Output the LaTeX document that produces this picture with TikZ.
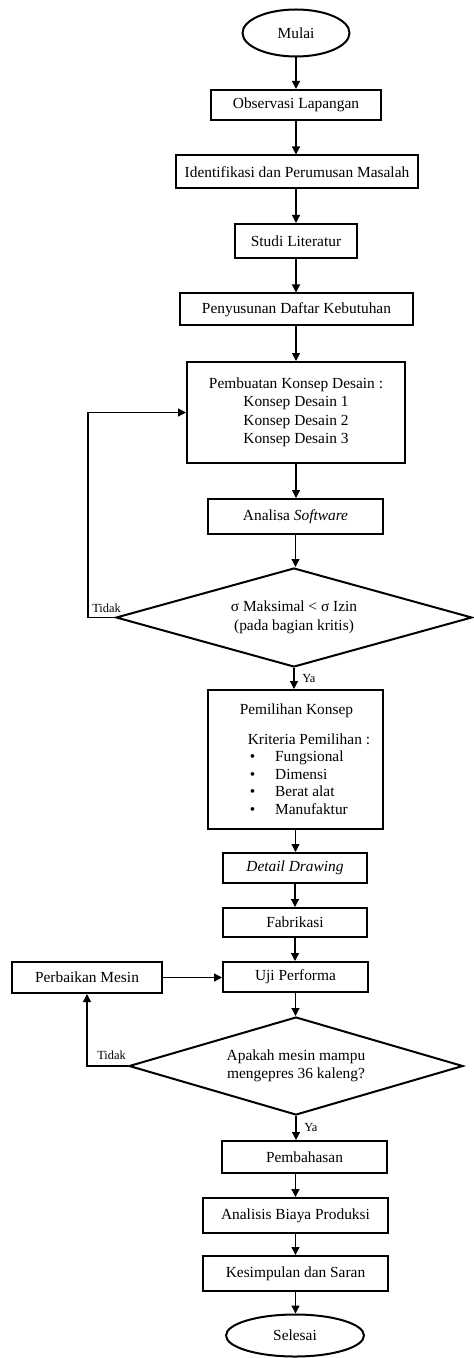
\documentclass[tikz,border=0pt]{standalone}
\usepackage{fontspec}
\setmainfont{Liberation Serif}
\usetikzlibrary{shapes.geometric,arrows.meta}

\tikzset{every picture/.style={line width=0.75pt}}
\tikzset{
  kotak/.style={draw, line width=1pt, inner sep=0pt, align=center, font=\fontsize{7.7}{9.25}\selectfont},
  oval/.style={kotak, ellipse},
  putusan/.style={kotak, diamond, aspect=3.4},
  ket/.style={inner sep=0.75pt, font=\fontsize{6.2}{7.5}\selectfont},
  panah/.style={line width=0.6pt, -{Triangle[width=4pt,length=4pt]}},
}

\begin{document}
\begin{tikzpicture}[x=0.5pt,y=0.5pt,yscale=-1,xscale=1]
    \useasboundingbox (0,0) rectangle (473,1358);

    %Shape: Ellipse [mulai]
    \node[oval, minimum width=53.5pt, minimum height=23.5pt] (mulai) at (296,33) {Mulai};
    %Shape: Rectangle
    \node[kotak, minimum width=85pt, minimum height=15pt] (obs) at (296,105) {Observasi Lapangan};
    \node[kotak, minimum width=121pt, minimum height=16.5pt] (ident) at (297,172) {Identifikasi dan Perumusan Masalah};
    \node[kotak, minimum width=61pt, minimum height=17pt] (studi) at (296,241) {Studi Literatur};
    \node[kotak, minimum width=116.5pt, minimum height=16pt] (susun) at (296.5,309.5) {Penyusunan Daftar Kebutuhan};
    \node[kotak, minimum width=109pt, minimum height=50.5pt] (konsep) at (296,412.5) {Pembuatan Konsep Desain :\\Konsep Desain 1\\Konsep Desain 2\\Konsep Desain 3};
    \node[kotak, minimum width=87.5pt, minimum height=17.5pt] (analisa) at (295.5,516.5) {Analisa \textit{Software}};
    %Shape: Diamond
    \node[putusan, minimum width=178pt, minimum height=49.5pt] (cek1) at (294,617.5) {σ Maksimal < σ Izin\\(pada bagian kritis)};
    %Shape: Rectangle
    \node[kotak, minimum width=87.5pt, minimum height=69.5pt] (pilih) at (295.5,759.5) {};
    % Text Node
    \node[anchor=north west, inner sep=0pt, align=left, font=\fontsize{7.7}{8.8}\selectfont] (kriteria) at ([xshift=16pt,yshift=7pt]pilih.north west) {Pemilihan Konsep\\[6pt]
      \hspace*{4pt}Kriteria Pemilihan :\\
      \hspace*{5pt}\textbullet\hspace*{10pt}Fungsional\\
      \hspace*{5pt}\textbullet\hspace*{10pt}Dimensi\\
      \hspace*{5pt}\textbullet\hspace*{10pt}Berat alat\\
      \hspace*{5pt}\textbullet\hspace*{10pt}Manufaktur};
    %Shape: Rectangle
    \node[kotak, minimum width=72pt, minimum height=15pt] (detail) at (295,868) {\textit{Detail Drawing}};
    \node[kotak, minimum width=72pt, minimum height=14.5pt] (fab) at (295,922.5) {Fabrikasi};
    \node[kotak, minimum width=72.5pt, minimum height=15pt] (uji) at (295.5,977) {Uji Performa};
    \node[kotak, minimum width=75pt, minimum height=15.5pt] (perbaikan) at (87,977.5) {Perbaikan Mesin};
    %Shape: Diamond
    \node[putusan, minimum width=167pt, minimum height=49pt] (cek2) at (296,1066) {Apakah mesin mampu\\mengepres 36 kaleng?};
    %Shape: Rectangle
    \node[kotak, minimum width=82.5pt, minimum height=16pt] (bahas) at (304.5,1157) {Pembahasan};
    \node[kotak, minimum width=92.5pt, minimum height=17.5pt] (biaya) at (295.5,1215.5) {Analisis Biaya Produksi};
    \node[kotak, minimum width=92.5pt, minimum height=17.5pt] (simpul) at (295.5,1273.5) {Kesimpulan dan Saran};
    %Shape: Ellipse [selesai]
    \node[oval, minimum width=69pt, minimum height=21pt] (selesai) at (295,1335.5) {Selesai};

    %Straight Lines
    \draw[panah] (mulai.south) -- (mulai.south |- obs.north);
    \draw[panah] (obs.south) -- (obs.south |- ident.north);
    \draw[panah] (studi.north |- ident.south) -- (studi.north);
    \draw[panah] (studi.south) -- (studi.south |- susun.north);
    \draw[panah] (konsep.north |- susun.south) -- (konsep.north);
    \draw[panah] (konsep.south) -- (konsep.south |- analisa.north);
    \draw[panah] (analisa.south) -- (analisa.south |- cek1.north);
    \draw[panah] (cek1.south) -- (cek1.south |- pilih.north);
    \draw[panah] (pilih.south) -- (pilih.south |- detail.north);
    \draw[panah] (detail.south) -- (detail.south |- fab.north);
    \draw[panah] (fab.south) -- (fab.south |- uji.north);
    \draw[panah] (uji.south) -- (uji.south |- cek2.north);
    \draw[panah] (perbaikan.east) -- (perbaikan.east -| uji.west);
    \draw[panah] (cek2.south) -- (cek2.south |- bahas.north);
    \draw[panah] (biaya.north |- bahas.south) -- (biaya.north);
    \draw[panah] (biaya.south) -- (simpul.north);
    \draw[panah] (simpul.south) -- (simpul.south |- selesai.north);

    %Loop Lines
    \coordinate (kiri1) at (88,617.5);
    \draw[panah] (cek1.west) -- (kiri1) |- (konsep.west);
    \coordinate (kiri2) at (87,1066);
    \draw[panah] (cek2.west) -- (kiri2) -- (kiri2 |- perbaikan.south);

    % Text Node
    \node[ket, anchor=south west] (tidak1) at ([xshift=1pt,yshift=-1.5pt]kiri1) {Tidak};
    \node[ket, anchor=south west] (tidak2) at ([xshift=4pt,yshift=-2pt]kiri2) {Tidak};
    \node[ket, anchor=west] (ya1) at ([xshift=3pt,yshift=5pt]cek1.south) {Ya};
    \node[ket, anchor=west] (ya2) at ([xshift=3pt,yshift=5.5pt]cek2.south) {Ya};

\end{tikzpicture}
\end{document}
